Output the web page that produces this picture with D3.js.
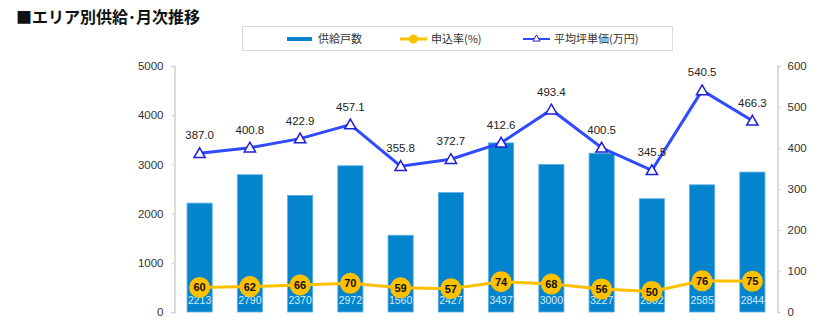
<!DOCTYPE html>
<html>
<head>
<meta charset="utf-8">
<script src="https://cdn.jsdelivr.net/npm/d3@7"></script>
<style>
  html, body { margin: 0; padding: 0; background: #fff; }
  svg { display: block; font-family: "Noto Sans CJK JP", "Noto Sans", sans-serif; }
</style>
</head>
<body>
<svg id="chart" width="830" height="323"></svg>
<script>
// Monthly supply, application rate and average price per tsubo
const categories = ["1月", "2月", "3月", "4月", "5月", "6月", "7月", "8月", "9月", "10月", "11月", "12月"];
const supplyUnits = [2213, 2790, 2370, 2972, 1560, 2427, 3437, 3000, 3227, 2302, 2585, 2844];
const applicationRate = [60, 62, 66, 70, 59, 57, 74, 68, 56, 50, 76, 75];
const avgPrice = [387.0, 400.8, 422.9, 457.1, 355.8, 372.7, 412.6, 493.4, 400.5, 345.5, 540.5, 466.3];
const leftTicks = [0, 1000, 2000, 3000, 4000, 5000];
const rightTicks = [0, 100, 200, 300, 400, 500, 600];
const seriesNames = ["供給戸数", "申込率(%)", "平均坪単価(万円)"];
const titleText = "■エリア別供給･月次推移";

const svg = d3.select("#chart");
const plot = { left: 174.5, right: 777.5, top: 66, bottom: 312 };

const x = d3.scaleBand().domain(categories).range([plot.left, plot.right]).paddingInner(0.5).paddingOuter(0.25);
const yL = d3.scaleLinear().domain([0, 5000]).range([plot.bottom, plot.top]);
const yR = d3.scaleLinear().domain([0, 600]).range([plot.bottom, plot.top]);
const cx = c => x(c) + x.bandwidth() / 2;

const BAR = "#0584ce", RATE = "#ffc000", PRICE = "#2f4bff", TRI = "#1f1fd6";
const NUM_FONT = "Liberation Sans, Arial, sans-serif";

// Title
svg.append("text").attr("x", 16).attr("y", 23)
  .attr("font-size", 16).attr("font-weight", "bold").attr("fill", "#111")
  .text(titleText);

// Legend
const lg = svg.append("g");
lg.append("rect").attr("x", 242.5).attr("y", 26.5).attr("width", 430).attr("height", 24)
  .attr("fill", "#fff").attr("stroke", "#dcdcdc");
lg.append("line").attr("x1", 287).attr("x2", 312).attr("y1", 39).attr("y2", 39)
  .attr("stroke", BAR).attr("stroke-width", 4);
lg.append("line").attr("x1", 400).attr("x2", 427).attr("y1", 39).attr("y2", 39)
  .attr("stroke", RATE).attr("stroke-width", 3);
lg.append("circle").attr("cx", 413.5).attr("cy", 39).attr("r", 4.5).attr("fill", RATE);
lg.append("line").attr("x1", 523).attr("x2", 550).attr("y1", 39).attr("y2", 39)
  .attr("stroke", PRICE).attr("stroke-width", 2);
lg.append("path").attr("transform", "translate(536.5,39)")
  .attr("d", d3.symbol(d3.symbolTriangle, 22)()).attr("fill", "#fff").attr("stroke", TRI).attr("stroke-width", 1);
[[318, seriesNames[0]], [431, seriesNames[1]], [554, seriesNames[2]]].forEach(([lx, t]) => {
  lg.append("text").attr("x", lx).attr("y", 43).attr("font-size", 11).attr("fill", "#333").text(t);
});

// Axes
const axisL = svg.append("g").attr("transform", `translate(${plot.left},0)`)
  .call(d3.axisLeft(yL).tickValues(leftTicks).tickSize(3).tickPadding(8).tickFormat(d3.format("d")));
const axisR = svg.append("g").attr("transform", `translate(${plot.right},0)`)
  .call(d3.axisRight(yR).tickValues(rightTicks).tickSize(3).tickPadding(7).tickFormat(d3.format("d")));
[axisL, axisR].forEach(a => {
  a.select(".domain").attr("stroke", "#d0d0d0").attr("stroke-width", 1.5);
  a.selectAll(".tick line").attr("stroke", "#d0d0d0");
  a.selectAll(".tick text").attr("font-size", 11.5).attr("fill", "#333")
    .attr("font-family", NUM_FONT);
});

// Bars
svg.append("g").selectAll("rect").data(supplyUnits).join("rect")
  .attr("x", (d, i) => x(categories[i]))
  .attr("y", d => yL(d))
  .attr("width", x.bandwidth())
  .attr("height", d => yL(0) - yL(d))
  .attr("fill", BAR).attr("stroke", "#5aaee3").attr("stroke-width", 0.8);

// Bar value labels
svg.append("g").selectAll("text").data(supplyUnits).join("text")
  .attr("x", (d, i) => cx(categories[i]))
  .attr("y", 304)
  .attr("text-anchor", "middle").attr("font-size", 10.5).attr("fill", "#d4ecff")
  .attr("font-family", NUM_FONT)
  .text(d => d);

// Average price line
const priceLine = d3.line().x((d, i) => cx(categories[i])).y(d => yR(d));
svg.append("path").datum(avgPrice).attr("d", priceLine)
  .attr("fill", "none").attr("stroke", PRICE).attr("stroke-width", 3);
svg.append("g").selectAll("path").data(avgPrice).join("path")
  .attr("transform", (d, i) => `translate(${cx(categories[i])},${yR(d) + 1})`)
  .attr("d", d3.symbol(d3.symbolTriangle, 55)())
  .attr("fill", "#fff").attr("stroke", TRI).attr("stroke-width", 1.5);
svg.append("g").selectAll("text").data(avgPrice).join("text")
  .attr("x", (d, i) => cx(categories[i]))
  .attr("y", d => yR(d) - 14)
  .attr("text-anchor", "middle").attr("font-size", 11.5).attr("fill", "#222")
  .attr("font-family", NUM_FONT)
  .text(d => d.toFixed(1));

// Application rate line
const rateLine = d3.line().x((d, i) => cx(categories[i])).y(d => yR(d));
svg.append("path").datum(applicationRate).attr("d", rateLine)
  .attr("fill", "none").attr("stroke", RATE).attr("stroke-width", 3);
svg.append("g").selectAll("circle").data(applicationRate).join("circle")
  .attr("cx", (d, i) => cx(categories[i])).attr("cy", d => yR(d))
  .attr("r", 10.5).attr("fill", RATE);
svg.append("g").selectAll("text").data(applicationRate).join("text")
  .attr("x", (d, i) => cx(categories[i])).attr("y", d => yR(d) + 4)
  .attr("text-anchor", "middle").attr("font-size", 11).attr("font-weight", "bold").attr("fill", "#111")
  .attr("font-family", NUM_FONT)
  .text(d => d);
</script>
</body>
</html>
